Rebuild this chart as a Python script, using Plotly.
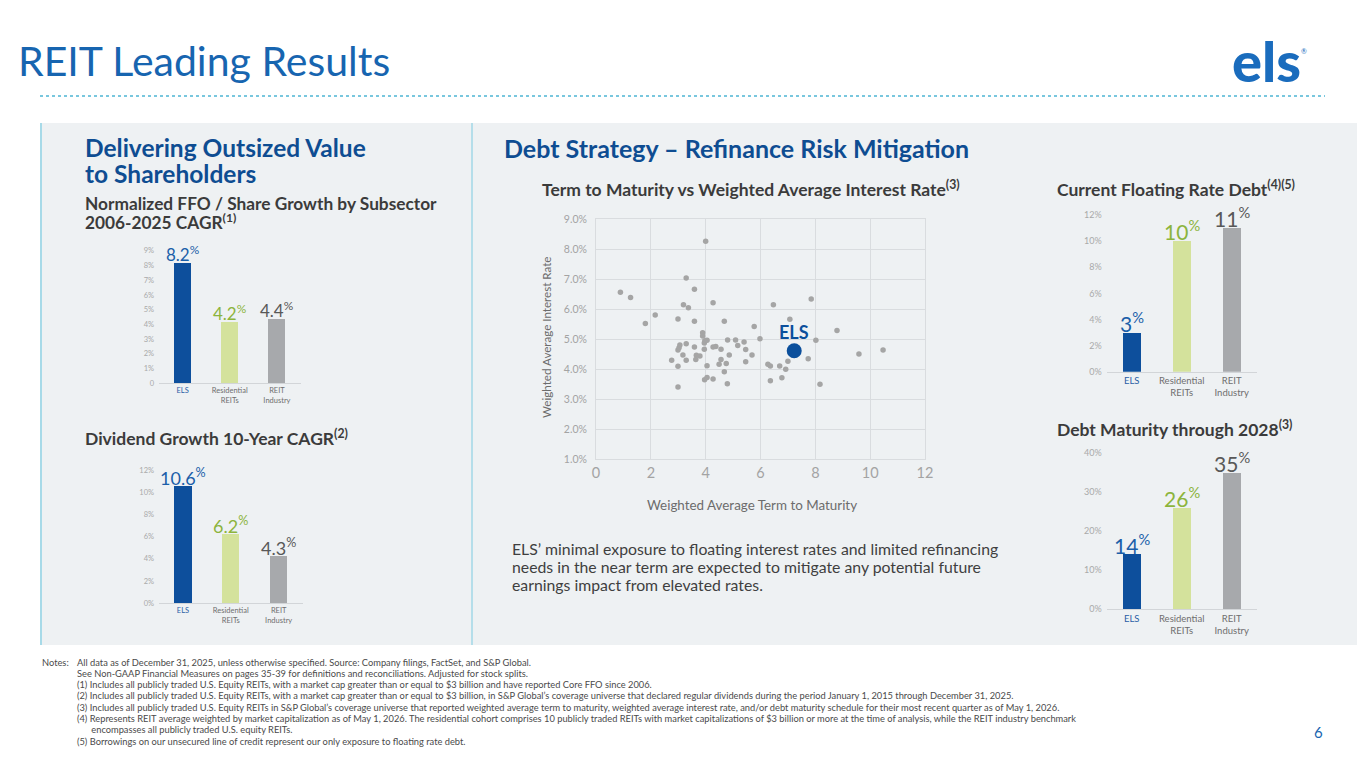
import plotly.graph_objects as go

W, H = 1365, 768
OFF = 8  # the page body adds an 8px margin around the figure
FONT = "Lato"


def fx(x):
    return (x - OFF) / W


def fy(y):
    return 1 - (y - OFF) / H


# ---- data -------------------------------------------------------------
categories = ["ELS", "Residential<br>REITs", "REIT<br>Industry"]
ffo_growth = [8.2, 4.2, 4.4]
dividend_growth = [10.6, 6.2, 4.3]
floating_rate_debt = [3, 10, 11]
debt_maturity_2028 = [14, 26, 35]

ffo_tickvals = [0, 1, 2, 3, 4, 5, 6, 7, 8, 9]
ffo_ticktext = ["0", "1%", "2%", "3%", "4%", "5%", "6%", "7%", "8%", "9%"]
div_tickvals = [0, 2, 4, 6, 8, 10, 12]
div_ticktext = ["0%", "2%", "4%", "6%", "8%", "10%", "12%"]
float_tickvals = [0, 2, 4, 6, 8, 10, 12]
float_ticktext = ["0%", "2%", "4%", "6%", "8%", "10%", "12%"]
mat_tickvals = [0, 10, 20, 30, 40]
mat_ticktext = ["0%", "10%", "20%", "30%", "40%"]

# REIT peers: weighted average term to maturity (yrs) vs weighted avg interest rate (%)
peer_term = [0.89, 1.26, 1.80, 2.16, 2.76, 2.99, 2.99, 3.03, 3.06, 2.99, 2.99,
             3.17, 3.19, 3.29, 3.29, 3.29, 3.37, 3.59, 3.59, 3.59, 3.64, 3.66,
             3.79, 3.89, 3.89, 3.95, 3.95, 3.96, 4.00, 3.97, 4.05, 4.05, 4.05,
             4.27, 4.27, 4.37, 4.27, 4.49, 4.56, 4.56, 4.68, 4.68, 4.75, 4.79,
             4.80, 4.86, 5.09, 5.17, 5.40, 5.46, 5.46, 5.69, 5.77, 5.98, 6.27,
             6.36, 6.36, 6.47, 6.70, 6.78, 6.92, 7.00, 7.07, 7.74, 7.85, 8.02,
             8.17, 8.79, 9.59, 10.47]
peer_rate = [6.57, 6.39, 5.53, 5.81, 4.30, 5.68, 4.64, 4.72, 4.81, 4.10, 3.41,
             4.48, 6.15, 7.04, 4.85, 4.30, 6.05, 6.67, 5.60, 4.74, 4.33, 4.47,
             4.44, 5.22, 5.11, 4.88, 4.67, 3.65, 8.27, 4.95, 4.97, 4.12, 3.73,
             6.22, 4.74, 4.76, 3.68, 4.17, 4.67, 4.33, 5.60, 3.92, 4.19, 3.52,
             4.98, 4.48, 4.98, 4.79, 4.91, 4.66, 4.25, 4.48, 5.43, 5.02, 4.17,
             4.11, 3.62, 6.15, 4.11, 3.72, 4.00, 4.27, 5.67, 4.35, 6.34, 4.97,
             3.50, 5.29, 4.51, 4.64]
els_term = [7.23]
els_rate = [4.62]

term_ticks = [0, 2, 4, 6, 8, 10, 12]
rate_tickvals = [1, 2, 3, 4, 5, 6, 7, 8, 9]
rate_ticktext = ["1.0%", "2.0%", "3.0%", "4.0%", "5.0%", "6.0%", "7.0%", "8.0%", "9.0%"]

notes_lines = [
    "All data as of December 31, 2025, unless otherwise specified. Source: Company filings, FactSet, and S&amp;P Global.",
    "See Non-GAAP Financial Measures on pages 35-39 for definitions and reconciliations. Adjusted for stock splits.",
    "(1) Includes all publicly traded U.S. Equity REITs, with a market cap greater than or equal to $3 billion and have reported Core FFO since 2006.",
    "(2) Includes all publicly traded U.S. Equity REITs, with a market cap greater than or equal to $3 billion, in S&amp;P Global’s coverage universe that declared regular dividends during the period January 1, 2015 through December 31, 2025.",
    "(3) Includes all publicly traded U.S. Equity REITs in S&amp;P Global’s coverage universe that reported weighted average term to maturity, weighted average interest rate, and/or debt maturity schedule for their most recent quarter as of May 1, 2026.",
    "(4) Represents REIT average weighted by market capitalization as of May 1, 2026. The residential cohort comprises 10 publicly traded REITs with market capitalizations of $3 billion or more at the time of analysis, while the REIT industry benchmark",
    "      encompasses all publicly traded U.S. equity REITs.",
    "(5) Borrowings on our unsecured line of credit represent our only exposure to floating rate debt.",
]

paragraph = [
    "ELS’ minimal exposure to floating interest rates and limited refinancing",
    "needs in the near term are expected to mitigate any potential future",
    "earnings impact from elevated rates.",
]

# ---- colours ----------------------------------------------------------
BAR_COLORS = ["#0d4f9c", "#d4e29c", "#a7a9ac"]
LABEL_COLORS = ["#1b5fa9", "#8cb43c", "#585858"]
BLUE_HEAD = "#0e4d92"
DARK = "#3b3b3b"
PANEL = "#eef1f3"
CYAN = "#8fd2e4"

fig = go.Figure()


def add_bar_chart(n, values, xdom, ydom, yrange, tickvals, ticktext,
                  bar_w, tick_size, cat_size, label_size):
    sfx = "" if n == 1 else str(n)
    xa, ya = "x" + sfx, "y" + sfx
    fig.add_trace(go.Bar(x=categories, y=values, marker_color=BAR_COLORS,
                         marker_line_width=0, width=bar_w, xaxis=xa, yaxis=ya,
                         hoverinfo="skip", showlegend=False))
    cat_text = ["<span style='color:#2a5ea6'>ELS</span>"] + categories[1:]
    fig.update_layout({
        "xaxis" + sfx: dict(domain=[fx(xdom[0]), fx(xdom[1])], anchor=ya,
                            type="category", range=[-0.5, 2.5], automargin=False,
                            tickmode="array", tickvals=categories, ticktext=cat_text,
                            showline=True, linecolor="#d2d5d8", linewidth=1,
                            showgrid=False, ticks="",
                            tickfont=dict(family=FONT, size=cat_size, color="#6e6e6e")),
        "yaxis" + sfx: dict(domain=[fy(ydom[0]), fy(ydom[1])], anchor=xa,
                            range=yrange, tickmode="array", tickvals=tickvals,
                            ticktext=ticktext, showgrid=False, zeroline=False,
                            ticks="", ticklabelstandoff=4, automargin=False,
                            tickfont=dict(family=FONT, size=tick_size, color="#a9a9a9")),
    })
    for c, v, col in zip(categories, values, LABEL_COLORS):
        fig.add_annotation(x=c, y=v, xref=xa, yref=ya, yanchor="bottom",
                           text=f"{v}<sup>%</sup>", showarrow=False, yshift=-5,
                           font=dict(family=FONT, size=label_size, color=col))


# left column
add_bar_chart(1, ffo_growth, (159, 300.5), (383.3, 250.7), [0, 9],
              ffo_tickvals, ffo_ticktext, 0.36, 7.5, 7.5, 17)
add_bar_chart(2, dividend_growth, (159, 302.6), (603.3, 470), [0, 12],
              div_tickvals, div_ticktext, 0.36, 7.5, 7.5, 18)
# right column
add_bar_chart(3, floating_rate_debt, (1106.7, 1256.7), (371.7, 215), [0, 12],
              float_tickvals, float_ticktext, 0.37, 9, 9.5, 21)
add_bar_chart(4, debt_maturity_2028, (1106.7, 1256.7), (609.3, 453.3), [0, 40],
              mat_tickvals, mat_ticktext, 0.37, 9, 9.5, 21)

# scatter
fig.add_trace(go.Scatter(x=peer_term, y=peer_rate, mode="markers",
                         marker=dict(color="#a5a5a5", size=5.5),
                         xaxis="x5", yaxis="y5", hoverinfo="skip", showlegend=False))
fig.add_trace(go.Scatter(x=els_term, y=els_rate, mode="markers",
                         marker=dict(color="#0b4f9c", size=15),
                         xaxis="x5", yaxis="y5", hoverinfo="skip", showlegend=False))
fig.add_annotation(x=els_term[0], y=els_rate[0], xref="x5", yref="y5", text="<b>ELS</b>",
                   showarrow=False, yanchor="bottom", yshift=6,
                   font=dict(family=FONT, size=18, color="#0b4f9c"))
fig.update_layout(
    xaxis5=dict(domain=[fx(596), fx(925)], anchor="y5", range=[0, 12],
                tickmode="array", tickvals=term_ticks, showgrid=True, automargin=False,
                gridcolor="#d9dcdf", gridwidth=1, zeroline=False,
                showline=True, mirror=True, linecolor="#d9dcdf", ticks="",
                tickfont=dict(family=FONT, size=14.5, color="#a3a3a3")),
    yaxis5=dict(domain=[fy(459.3), fy(219.3)], anchor="x5", range=[1, 9],
                tickmode="array", tickvals=rate_tickvals, ticktext=rate_ticktext,
                showgrid=True, gridcolor="#d9dcdf", gridwidth=1, zeroline=False,
                showline=True, mirror=True, linecolor="#d9dcdf", ticks="",
                ticklabelstandoff=6, automargin=False,
                tickfont=dict(family=FONT, size=10.5, color="#a3a3a3")),
)

# ---- background shapes ------------------------------------------------
fig.add_shape(type="rect", xref="paper", yref="paper", x0=fx(40), x1=fx(1375),
              y0=fy(645), y1=fy(123), fillcolor=PANEL, line_width=0, layer="below")
fig.add_shape(type="line", xref="paper", yref="paper", x0=fx(41), x1=fx(41),
              y0=fy(645), y1=fy(123), line=dict(color=CYAN, width=1.5), layer="below")
fig.add_shape(type="line", xref="paper", yref="paper", x0=fx(472), x1=fx(472),
              y0=fy(645), y1=fy(123), line=dict(color=CYAN, width=1.2), layer="below")
fig.add_shape(type="line", xref="paper", yref="paper", x0=fx(40), x1=fx(1325),
              y0=fy(96), y1=fy(96), line=dict(color="#4db5d4", width=1.6, dash="dot"))


def text(x, y, s, size, color, xanchor="left", bold=False, angle=0):
    fig.add_annotation(x=fx(x), y=fy(y), xref="paper", yref="paper",
                       text=f"<b>{s}</b>" if bold else s, showarrow=False,
                       xanchor=xanchor, yanchor="middle",
                       align=xanchor if xanchor != "center" else "center",
                       textangle=angle,
                       font=dict(family=FONT, size=size, color=color))


# headline + logo
text(16, 60, "REIT Leading Results", 41, "#1765b0")
fig.add_annotation(x=fx(1266), y=fy(61), xref="paper", yref="paper", text="els",
                   showarrow=False, xanchor="center", yanchor="middle",
                   font=dict(family=FONT, size=56, color="#1a6cbd", weight=900))
text(1304, 51, "®", 7, "#1a6cbd", xanchor="center")

# section headings
text(83, 148, "Delivering Outsized Value", 24.5, BLUE_HEAD, bold=True)
text(83, 173, "to Shareholders", 24.5, BLUE_HEAD, bold=True)
text(83, 204, "Normalized FFO / Share Growth by Subsector", 17.3, DARK, bold=True)
text(83, 222, "2006-2025 CAGR<sup>(1)</sup>", 17.3, DARK, bold=True)
text(83, 437, "Dividend Growth 10-Year CAGR<sup>(2)</sup>", 17.5, DARK, bold=True)
text(502, 148, "Debt Strategy – Refinance Risk Mitigation", 25, BLUE_HEAD, bold=True)
text(751, 188, "Term to Maturity vs Weighted Average Interest Rate<sup>(3)</sup>", 17.5,
     DARK, xanchor="center", bold=True)
text(1055, 188, "Current Floating Rate Debt<sup>(4)(5)</sup>", 17.5, DARK, bold=True)
text(1055, 428, "Debt Maturity through 2028<sup>(3)</sup>", 17.5, DARK, bold=True)

# scatter axis titles
text(752, 505, "Weighted Average Term to Maturity", 13.4, "#6c6c6c", xanchor="center")
text(546, 338, "Weighted Average Interest Rate", 11.6, "#6c6c6c", xanchor="center", angle=-90)

# paragraph
for i, line in enumerate(paragraph):
    text(510, 548 + 18 * i, line, 15.8, "#3f3f3f")

# notes
text(40, 662, "Notes:", 9.3, "#4a4a4a")
for i, line in enumerate(notes_lines):
    text(75, 662 + 11.3 * i, line, 9.3, "#4a4a4a")

text(1318, 732, "6", 15, "#1765b0", xanchor="center")

fig.update_layout(
    width=W, height=H, margin=dict(l=0, r=0, t=0, b=0, autoexpand=False),
    paper_bgcolor="white", plot_bgcolor="rgba(0,0,0,0)",
    bargap=0, showlegend=False, font=dict(family=FONT),
)

fig.write_html("out.html")
